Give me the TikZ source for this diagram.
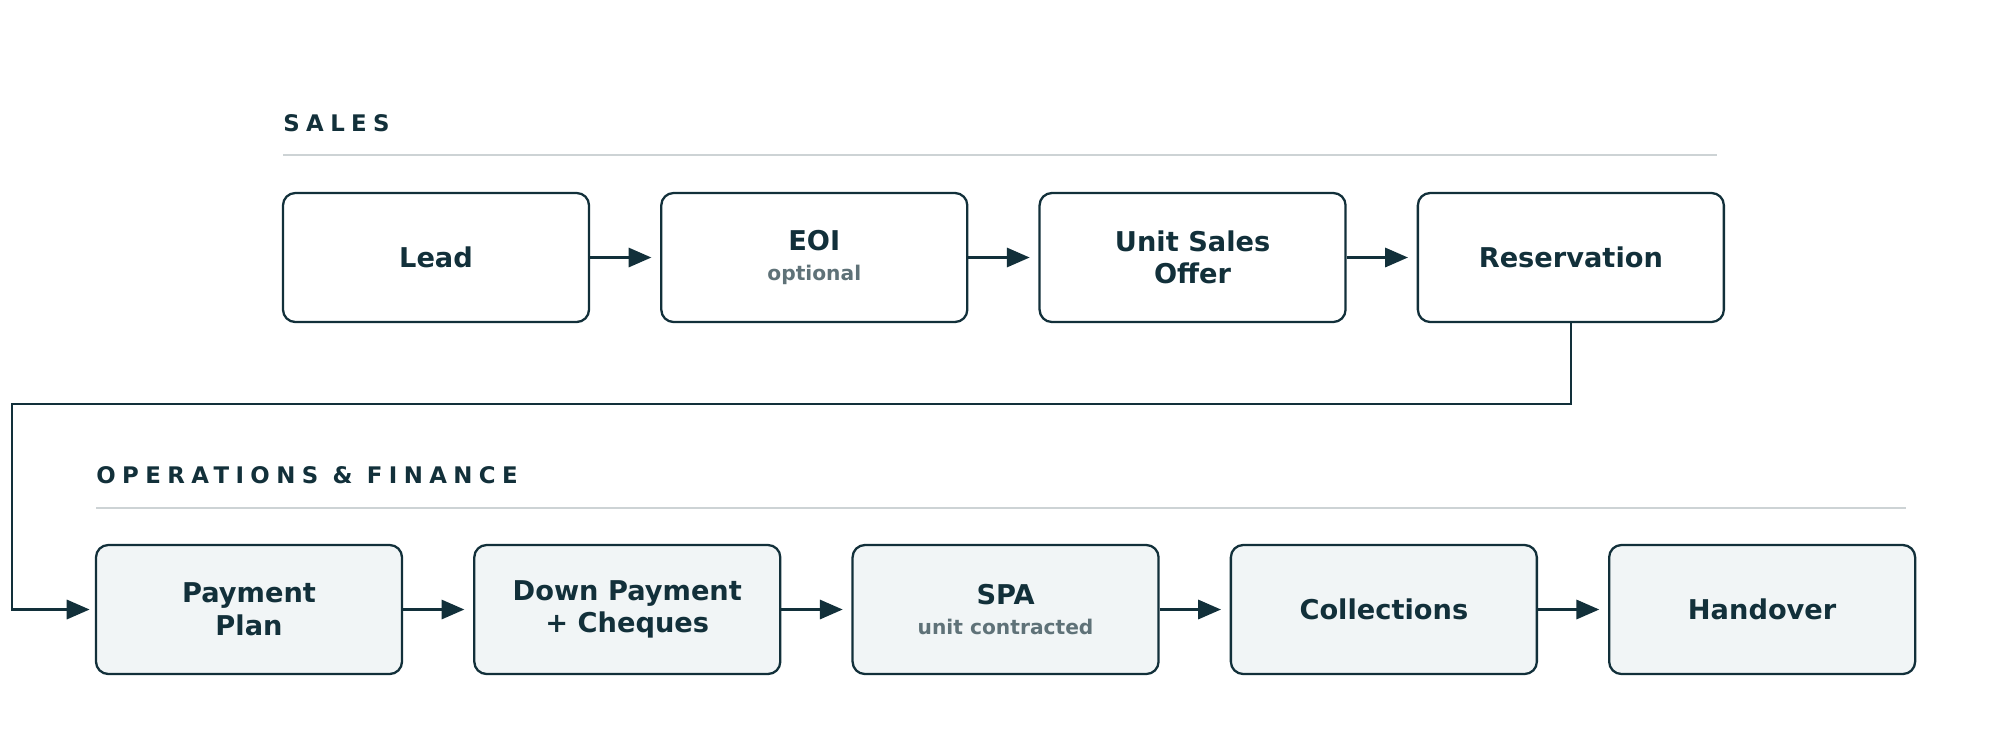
\documentclass[tikz,border=0pt]{standalone}
\usepackage{fontspec}
\setmainfont{DejaVu Sans}
\usetikzlibrary{positioning,arrows.meta}
\definecolor{ink}{HTML}{12303A}
\definecolor{opsfill}{HTML}{F1F5F6}
\definecolor{subgray}{HTML}{5F7278}
\definecolor{rulegray}{HTML}{CDD3D5}
\newcommand{\stage}[2]{{\fontsize{15.5}{19}\bfseries #1}\\[-1pt]{\fontsize{11.5}{14}\selectfont\color{subgray}#2}}
\tikzset{
  box/.style={draw=ink, line width=1.3pt, rounded corners=7pt, minimum width=6.12cm, minimum height=2.58cm,
    align=center, text=ink, font=\fontsize{15.5}{18.5}\selectfont\bfseries, inner sep=2pt},
  opsbox/.style={box, fill=opsfill},
  flow/.style={draw=ink, line width=1.3pt, -{Triangle[length=13pt,width=11pt]}, shorten >=5pt},
  lane/.style={anchor=base west, text=ink, font=\fontsize{13}{15}\selectfont\bfseries\addfontfeature{LetterSpace=28}, inner sep=0pt},
  lanerule/.style={draw=rulegray, line width=0.7pt}
}
\begin{document}
\begin{tikzpicture}[node distance=1.4cm]
  \useasboundingbox (0,0) rectangle (39.96,-14.8);
  % sales lane
  \node[lane] (salesT) at (5.66,-2.62) {SALES};
  \draw[lanerule] (5.66,-3.1) -- (34.34,-3.1);
  \node[box] (lead) at (8.72,-5.15) {Lead};
  \node[box, right=of lead] (eoi) {\stage{EOI}{optional}};
  \node[box, right=of eoi] (uso) {Unit Sales\\Offer};
  \node[box, right=of uso] (res) {Reservation};
  % operations lane
  \node[lane] (opsT) at (1.92,-9.66) {OPERATIONS \& FINANCE};
  \draw[lanerule] (1.92,-10.16) -- (38.12,-10.16);
  \node[opsbox] (pp) at (4.98,-12.19) {Payment\\Plan};
  \node[opsbox, right=of pp] (dp) {Down Payment\\+ Cheques};
  \node[opsbox, right=of dp] (spa) {\stage{SPA}{unit contracted}};
  \node[opsbox, right=of spa] (col) {Collections};
  \node[opsbox, right=of col] (ho) {Handover};
  \foreach \a/\b in {lead/eoi,eoi/uso,uso/res,pp/dp,dp/spa,spa/col,col/ho}
    \draw[flow] (\a) -- (\b);
  \coordinate (turn) at (0.24,-8.08);
  \draw[flow, shorten >=3pt] (res.south) |- (turn) |- (pp.west);
\end{tikzpicture}
\end{document}
